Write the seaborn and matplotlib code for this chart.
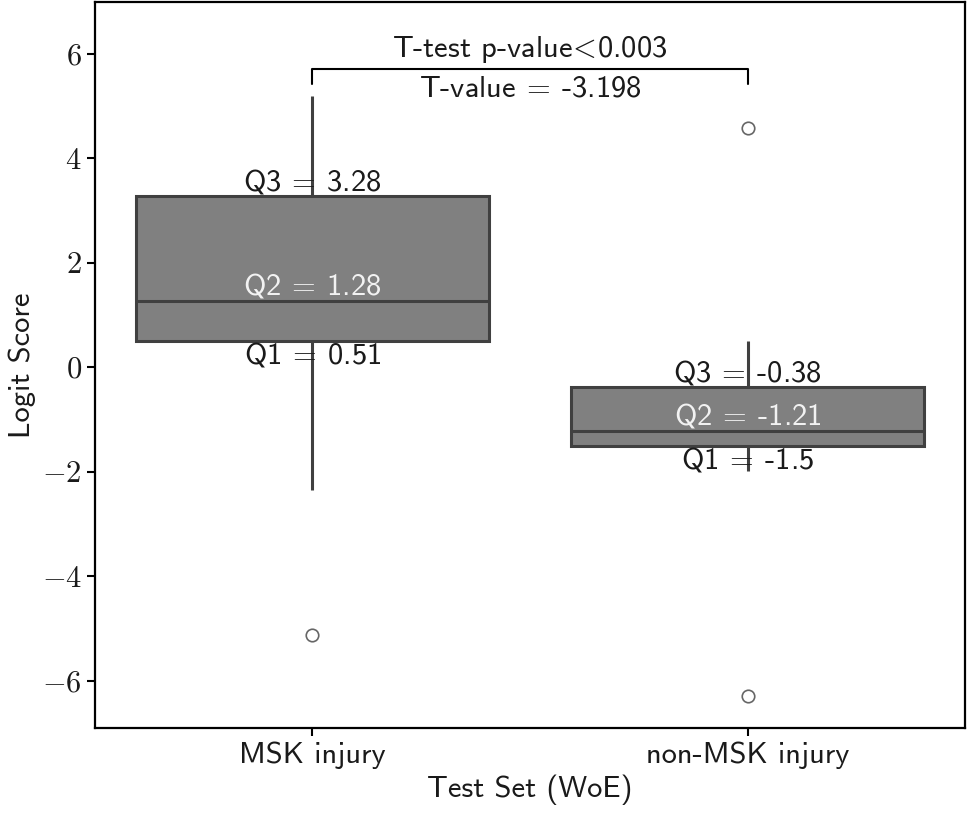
import numpy as np
import pandas as pd
import matplotlib
matplotlib.use("Agg")
import matplotlib.pyplot as plt
import seaborn as sns

# scores (chosen so the quartiles match the labels)
msk_scores = [-5.13, -2.34, 0.51, 0.90, 1.28, 2.10, 3.28, 4.10, 5.20]
non_msk_scores = [-6.28, -1.99, -1.50, -1.36, -1.21, -0.80, -0.38, 0.50, 4.58]
groups = ["MSK injury", "non-MSK injury"]
p_label = r"T-test p-value$\!<\!$0.003"
t_label = r"T-value $\!=\!$ -3.198"

sns.set_theme(style="ticks")
plt.rcParams['font.family'] = ['cmss10', 'DejaVu Sans']
plt.rcParams['mathtext.fontset'] = 'cm'
plt.rcParams['axes.unicode_minus'] = False

df = pd.DataFrame({
    "group": [groups[0]] * len(msk_scores) + [groups[1]] * len(non_msk_scores),
    "score": msk_scores + non_msk_scores,
})

fig = plt.figure(figsize=(9.68, 8.17), dpi=100)
ax = fig.add_axes([0.098, 0.109, 0.899, 0.889])

sns.boxplot(data=df, x="group", y="score", ax=ax, color="#808080",
            linecolor="#404040", linewidth=2.2, width=0.81, saturation=1,
            showcaps=False,
            flierprops=dict(marker="o", markersize=9, markerfacecolor="none",
                            markeredgecolor="#666666", markeredgewidth=1.2))

fs = 22
for i, vals in enumerate([msk_scores, non_msk_scores]):
    q1, q2, q3 = np.percentile(vals, [25, 50, 75])
    ax.text(i, q3, rf"Q3 $\!=\!$ {q3:.2f}", ha="center", va="bottom", fontsize=fs, color="#1a1a1a")
    ax.text(i, q2, rf"Q2 $\!=\!$ {q2:.2f}", ha="center", va="bottom", fontsize=fs, color="#f2f2f2")
    ax.text(i, q1, rf"Q1 $\!=\!$ {q1:g}", ha="center", va="top", fontsize=fs, color="#1a1a1a")

# significance bracket
y_br, y_tip = 5.71, 5.43
ax.plot([0, 0, 1, 1], [y_tip, y_br, y_br, y_tip], color="black", lw=1.5)
ax.text(0.5, y_br + 0.08, p_label, ha="center", va="bottom", fontsize=fs, color="#1a1a1a")
ax.text(0.5, y_br - 0.12, t_label, ha="center", va="top", fontsize=fs, color="#1a1a1a")

ax.set_ylim(-6.9, 7.0)
ax.set_xlim(-0.5, 1.5)
ax.set_yticks([-6, -4, -2, 0, 2, 4, 6])
ax.yaxis.set_major_formatter(matplotlib.ticker.FuncFormatter(lambda x, pos: f"${x:g}$"))
ax.set_xlabel("Test Set (WoE)", fontsize=fs, color="#1a1a1a")
ax.set_ylabel("Logit Score", fontsize=fs, color="#1a1a1a")
ax.tick_params(axis="both", labelsize=fs, direction="out", length=6, width=1.5,
               color="black", labelcolor="#1a1a1a")
for s in ax.spines.values():
    s.set_visible(True)
    s.set_color("black")
    s.set_linewidth(1.6)

fig.savefig("out.png", dpi=100)
